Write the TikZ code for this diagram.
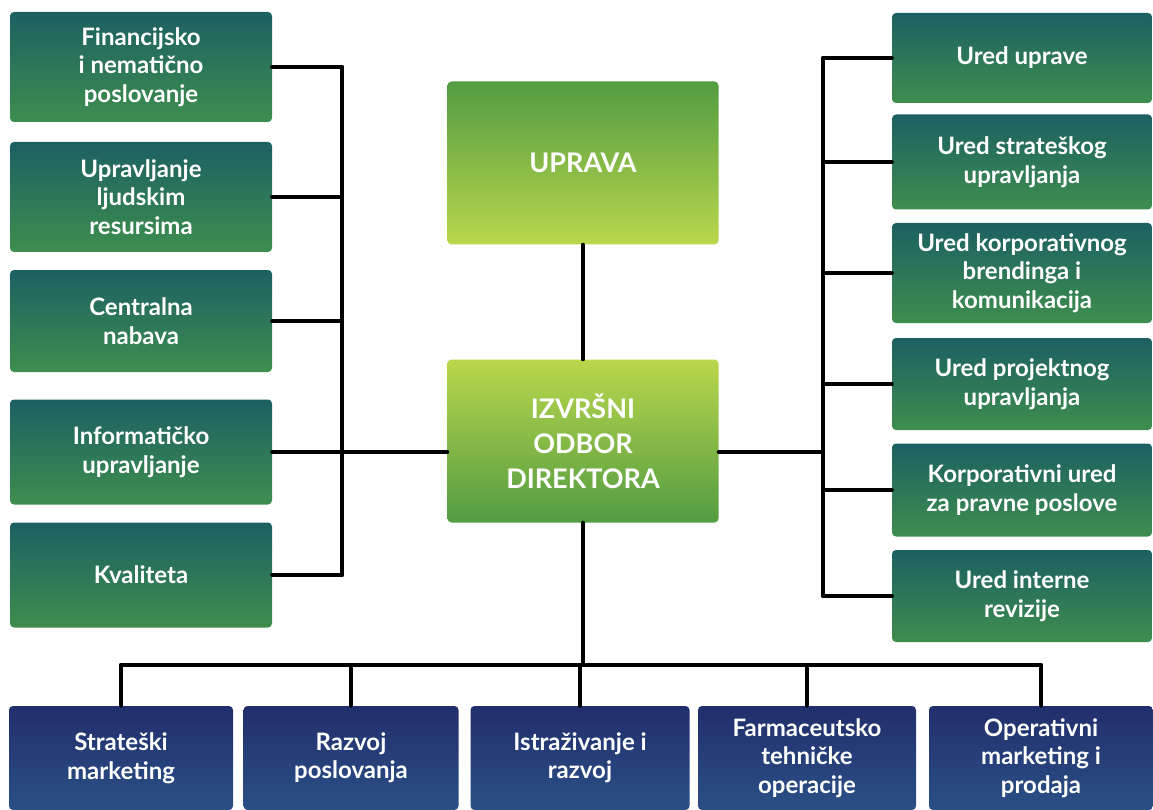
\documentclass[tikz,border=0pt]{standalone}
\usepackage{fontspec}
\setmainfont{Lato}

\definecolor{teali}{RGB}{28,96,98}
\definecolor{tealii}{RGB}{62,142,78}
\definecolor{limei}{RGB}{82,156,66}
\definecolor{limeii}{RGB}{186,215,76}
\definecolor{navyi}{RGB}{34,46,108}
\definecolor{navyii}{RGB}{42,80,134}

\tikzset{
    unit/.style={rectangle, rounded corners=4pt, inner sep=0pt, align=center, text=white,
        font=\bfseries\fontsize{24}{28.5}\selectfont},
    sidebox/.style={unit, top color=teali, bottom color=tealii},
    mainbox/.style={unit, font=\bfseries\fontsize{27}{35}\selectfont,
        minimum width=271pt, minimum height=163pt},
    lowbox/.style={unit, top color=navyi, bottom color=navyii, minimum height=104pt},
    link/.style={line width=4pt, line cap=round, line join=round}
}

\begin{document}
\begin{tikzpicture}[x=1pt, y=-1pt]

        \useasboundingbox (0,0) rectangle (1153,810);

        % uprava i odbor
        \node[mainbox, top color=limei, bottom color=limeii] (uprava) at (583,163) {UPRAVA};
        \node[mainbox, top color=limeii, bottom color=limei] (odbor) at (583,441)
            {IZVRŠNI\\ODBOR\\DIREKTORA};

        % lijevi stupac
        \node[sidebox, minimum width=262pt, minimum height=110pt] (l1) at (141,67)
            {Financijsko\\i nematično\\poslovanje};
        \node[sidebox, minimum width=262pt, minimum height=110pt] (l2) at (141,197)
            {Upravljanje\\ljudskim\\resursima};
        \node[sidebox, minimum width=262pt, minimum height=102pt] (l3) at (141,321)
            {Centralna\\nabava};
        \node[sidebox, minimum width=262pt, minimum height=105pt] (l4) at (141,452)
            {Informatičko\\upravljanje};
        \node[sidebox, minimum width=262pt, minimum height=105pt] (l5) at (141,575)
            {Kvaliteta};

        % desni stupac
        \node[sidebox, minimum width=260pt, minimum height=90pt] (r1) at (1022,58)
            {Ured uprave};
        \node[sidebox, minimum width=260pt, minimum height=95pt] (r2) at (1022,162)
            {Ured strateškog\\upravljanja};
        \node[sidebox, minimum width=260pt, minimum height=100pt] (r3) at (1022,273)
            {Ured korporativnog\\brendinga i\\komunikacija};
        \node[sidebox, minimum width=260pt, minimum height=92pt] (r4) at (1022,384)
            {Ured projektnog\\upravljanja};
        \node[sidebox, minimum width=260pt, minimum height=93pt] (r5) at (1022,490)
            {Korporativni ured\\za pravne poslove};
        \node[sidebox, minimum width=260pt, minimum height=92pt] (r6) at (1022,596)
            {Ured interne\\revizije};

        % donji red
        \node[lowbox, minimum width=224pt] (b1) at (121,758) {Strateški\\marketing};
        \node[lowbox, minimum width=215pt] (b2) at (351,758) {Razvoj\\poslovanja};
        \node[lowbox, minimum width=219pt] (b3) at (580,758) {Istraživanje i\\razvoj};
        \node[lowbox, minimum width=218pt] (b4) at (807,758) {Farmaceutsko\\tehničke\\operacije};
        \node[lowbox, minimum width=224pt] (b5) at (1041,758) {Operativni\\marketing i\\prodaja};

        % sabirnice
        \coordinate (lbus) at (342,0);
        \coordinate (rbus) at (823,0);
        \coordinate (bbus) at (0,665);

        % veze
        \draw[link] (uprava.south) -- (uprava.south |- odbor.north);

        \draw[link] (l1.east -| lbus) -- (l5.east -| lbus);
        \foreach \n in {l1,l2,l3,l4,l5}
            \draw[link] (\n.east) -- (\n.east -| lbus);
        \draw[link] (lbus |- l4.east) -- (odbor.west |- l4.east);

        \draw[link] (r1.west -| rbus) -- (r6.west -| rbus);
        \foreach \n in {r1,r2,r3,r4,r5,r6}
            \draw[link] (\n.west) -- (\n.west -| rbus);
        \draw[link] (odbor.east |- l4.east) -- (rbus |- l4.east);

        \draw[link] (odbor.south) -- (odbor.south |- bbus);
        \draw[link] (b1.north |- bbus) -- (b5.north |- bbus);
        \foreach \n in {b1,b2,b3,b4,b5}
            \draw[link] (\n.north |- bbus) -- (\n.north);

    \end{tikzpicture}
\end{document}
